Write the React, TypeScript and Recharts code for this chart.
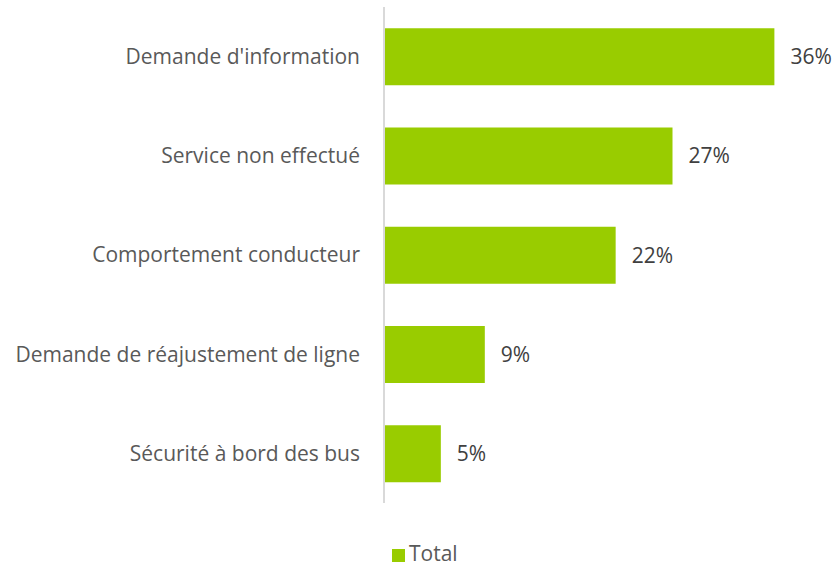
import React from "react";
import { BarChart, Bar, XAxis, YAxis, LabelList, Legend } from "recharts";

const categories = [
  "Demande d'information",
  "Service non effectué",
  "Comportement conducteur",
  "Demande de réajustement de ligne",
  "Sécurité à bord des bus",
];
const totals = [36.4, 26.9, 21.6, 9.4, 5.3];

const data = categories.map((c, i) => ({ name: c, Total: totals[i] }));

const FONT = "'Open Sans', 'Noto Sans', sans-serif";

export default function App() {
  return (
    <div style={{ position: "absolute", left: 0, top: 0, width: 838, height: 566, background: "#fff" }}>
      <BarChart
        width={838}
        height={566}
        data={data}
        layout="vertical"
        margin={{ top: 7, right: 25, bottom: 41, left: 0 }}
        barCategoryGap="21.5%"
      >
        <XAxis type="number" domain={[0, 40]} hide />
        <YAxis
          type="category"
          dataKey="name"
          width={384}
          tickLine={false}
          tickSize={0}
          tickMargin={24}
          axisLine={{ stroke: "#d9d9d9", strokeWidth: 2 }}
          tick={{ fill: "#595959", fontSize: 21, fontFamily: FONT }}
          interval={0}
        />
        <Legend
          verticalAlign="bottom"
          align="center"
          iconType="square"
          iconSize={13}
          height={22}
          wrapperStyle={{ fontFamily: FONT, fontSize: 21, lineHeight: "22px", color: "#595959", left: 392, top: 542, width: "auto", overflow: "visible" }}
          formatter={(v: string) => <span style={{ color: "#595959" }}>{v}</span>}
        />
        <Bar dataKey="Total" fill="#99cc00" isAnimationActive={false}>
          <LabelList
            dataKey="Total"
            position="right"
            offset={16}
            formatter={(v: number) => `${Math.round(v)}%`}
            style={{ fill: "#404040", fontSize: 21, fontFamily: FONT }}
          />
        </Bar>
      </BarChart>
    </div>
  );
}
